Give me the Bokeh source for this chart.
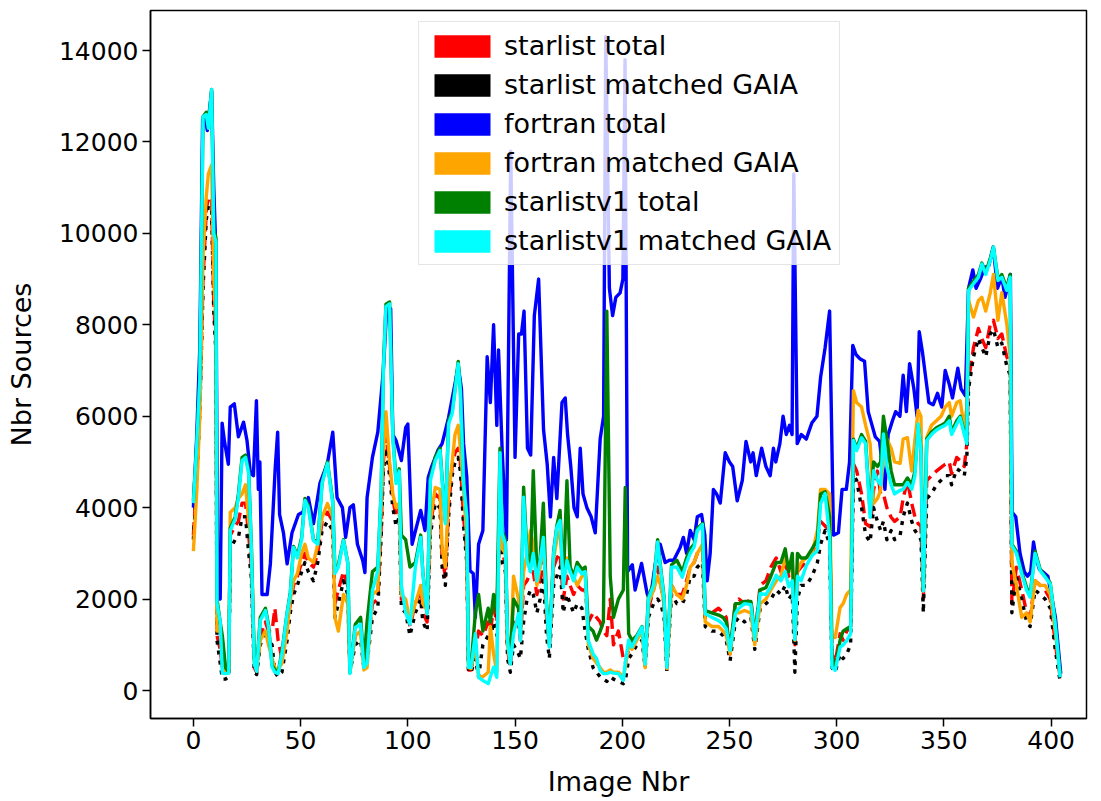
from bokeh.plotting import figure
from bokeh.models import Range1d, FixedTicker, Legend, LegendItem
from bokeh.embed import file_html
from bokeh.resources import INLINE

# ---- data ----
x_lower = [0, 1.5, 3, 4.5, 6, 7, 8.5, 9.5, 10.5, 11, 12.5, 13.5, 15, 16.5, 17.2, 19.5, 21, 22.7, 24.3, 25.8,
           27, 28.4, 29.5, 31.2, 33.6, 35, 36.7, 38, 39.5, 41.3, 43.7, 45.2, 46.7, 48.5, 50.5, 52, 53.6, 56, 58, 60,
           62.5, 65, 66, 67.6, 70, 72, 73, 75.5, 78, 79.5, 81, 83.5, 86, 87.6, 88.6, 89.8, 91.5, 93, 94.5, 96,
           97, 99, 101, 103.5, 106, 107, 109, 110.5, 112.8, 115, 116, 117.5, 119, 120.7, 122, 123.5, 124.5, 126, 127.5, 128.3,
           129.5, 131.5, 133, 135, 137.5, 138.5, 140, 141.5, 143, 144, 145.5, 146.5, 147.8, 149.3, 151.6, 152.5, 154, 155.6, 157.2, 158.5,
           160.2, 161.7, 163.2, 164.7, 166, 168, 169.5, 171, 172.5, 174.2, 175.7, 177.3, 179, 181.2, 182.7, 184.2, 186.4, 188, 189.7, 191.2,
           192.8, 194.4, 195.9, 198.2, 200.5, 201.4, 203, 204.5, 206.8, 209.2, 210.7, 212.2, 214.6, 216.5, 218, 219.5, 220.8, 223, 225.5, 228,
           230, 231.7, 233.5, 235, 237.4, 238.7, 241.8, 244.9, 247, 248.5, 250.3, 252.7, 254.4, 257, 260, 261.8, 264.3, 267, 269.3, 271.8,
           274, 276, 277.6, 279.3, 280.5, 281.7, 283.4, 285.8, 288.5, 291, 292.5, 294.6, 296.7, 297.8, 299.3, 301.6, 303, 304.7, 306.5, 307.8,
           309.3, 311.6, 313.5, 315.6, 317.2, 319, 320.5, 321.8, 323.4, 325.4, 327, 329.6, 331, 333, 335, 336.5, 338, 339.3, 340.4, 342,
           344.2, 346.5, 348.7, 350.6, 352.5, 353.6, 356, 357.6, 359.5, 360.7, 361.5, 363.8, 366.1, 367.7, 369.5, 371.6, 373.1, 375.2, 377, 379.3,
           380.9, 381.7, 383.8, 386.3, 388.6, 390.2, 392.5, 394.9, 397.2, 399.6, 401.9, 404.2]

starlistv1_matched = [4100, 5300, 6800, 12550, 12600, 12300, 13150, 10000, 9800, 1900, 1500, 380, 370, 380, 3500, 3750, 4230, 5030, 5100, 4740,
           3130, 580, 420, 1530, 1750, 1400, 510, 400, 370, 800, 1680, 2110, 3130, 2900, 3300, 4160, 4000, 3280, 3200, 4530,
           4970, 4090, 2560, 2700, 3280, 2780, 370, 1380, 1450, 500, 600, 2190, 2620, 4375, 7000, 8400, 8460, 5530, 4530, 4800,
           2300, 1700, 1450, 2700, 3350, 2560, 1680, 4590, 5030, 5250, 4590, 3650, 5830, 6060, 6560, 7150, 6560, 4530, 3800, 510,
           510, 1240, 290, 220, 150, 300, 510, 290, 5200, 3430, 3200, 1090, 580, 1240, 1680, 1090, 4230, 2840, 2600, 3000,
           2400, 2840, 3350, 1850, 950, 3000, 3570, 3720, 2260, 2840, 2600, 2400, 2700, 2550, 2600, 1090, 800, 700, 440, 370,
           370, 400, 380, 370, 220, 600, 1100, 950, 1170, 1390, 580, 2000, 2300, 3250, 2600, 2000, 510, 2700, 2700, 2480,
           2800, 3000, 3140, 3500, 3630, 1680, 1600, 1530, 1450, 1350, 875, 1680, 1800, 1900, 1880, 1120, 2120, 2100, 2270, 2520,
           2400, 2600, 2270, 2400, 1120, 2500, 2400, 2730, 2950, 3060, 4090, 4310, 3350, 510, 440, 950, 1000, 1090, 1240, 5470,
           5250, 5530, 5400, 3790, 4810, 4600, 4500, 5610, 4900, 4500, 4300, 4380, 4400, 4550, 4400, 4700, 5830, 5250, 2180, 5470,
           5600, 5700, 5760, 5800, 5900, 5600, 5830, 5970, 5610, 5400, 8750, 8900, 9040, 9330, 9100, 9400, 9700, 8970, 9040, 8750,
           9040, 3170, 3000, 2550, 2190, 2040, 3000, 2620, 2480, 2330, 1460, 290]

starlistv1_total = [4150, 5350, 6900, 12550, 12650, 12350, 13150, 10100, 9900, 2000, 1500, 1200, 500, 400, 3550, 3800, 4300, 5100, 5150, 4800,
           3200, 700, 500, 1600, 1800, 1450, 550, 450, 400, 850, 1700, 2150, 3150, 2950, 3350, 4200, 4050, 3300, 3250, 4550,
           5000, 4150, 2650, 2750, 3300, 2800, 400, 1450, 1600, 600, 1500, 2600, 2700, 4400, 7100, 8450, 8500, 5600, 4600, 4850,
           3400, 3300, 2700, 2800, 3400, 2600, 1700, 4650, 5100, 5300, 4650, 3700, 5900, 6100, 6600, 7200, 6600, 4600, 3850, 600,
           550, 1700, 2100, 1300, 1800, 1500, 2100, 1700, 5300, 3500, 3300, 1200, 700, 2000, 1800, 1300, 4450, 3000, 2700, 4810,
           2600, 2900, 4100, 1900, 1000, 3050, 3600, 3940, 2300, 4590, 2700, 2500, 2800, 2650, 2700, 1400, 1300, 1100, 1300, 1500,
           8300, 2500, 1600, 2000, 2200, 4440, 1240, 1100, 1200, 1400, 700, 2050, 2350, 3300, 2650, 2050, 550, 2750, 2850, 2600,
           2900, 3100, 3200, 3550, 3650, 1750, 1700, 1650, 1600, 1500, 900, 1900, 1900, 1950, 1950, 1200, 2200, 2250, 2500, 2800,
           2800, 3100, 2600, 3000, 1300, 3000, 2900, 2900, 3100, 3300, 4300, 4350, 3800, 700, 500, 1100, 1300, 1350, 1400, 5500,
           5300, 5600, 5450, 3900, 5000, 4900, 5000, 6000, 5500, 4800, 4500, 4500, 4500, 4650, 4500, 4800, 5800, 5300, 2200, 5500,
           5650, 5750, 5800, 5850, 6000, 5650, 5900, 6000, 5650, 5500, 8800, 8950, 9100, 9350, 9150, 9450, 9700, 9000, 9100, 8800,
           9100, 3200, 3050, 2600, 2250, 2100, 3050, 2650, 2500, 2350, 1500, 350]

fortran_matched = [3050, 4300, 6000, 9500, 10800, 11300, 11500, 9000, 8000, 1300, 1300, 1100, 400, 400, 3900, 4000, 4200, 4300, 4500, 3700,
           3300, 600, 450, 1100, 1300, 1000, 700, 500, 450, 600, 1300, 2000, 2400, 2560, 3000, 3200, 2900, 2800, 3200, 3790,
           4090, 3800, 1600, 1300, 2100, 1900, 400, 1200, 1300, 450, 500, 2100, 2200, 4010, 5250, 6100, 5000, 4300, 4000, 4100,
           2100, 2000, 1500, 1900, 2300, 1900, 1750, 3700, 4440, 4400, 3100, 2700, 4300, 5000, 5600, 5800, 5300, 4400, 3300, 500,
           480, 1000, 300, 300, 400, 1400, 800, 400, 4700, 3100, 3000, 1000, 600, 2500, 2000, 1200, 2600, 3000, 3500, 3200,
           2300, 2700, 3300, 1800, 1000, 2900, 3300, 3500, 2400, 2900, 2700, 2500, 2300, 2500, 2600, 1000, 700, 600, 500, 400,
           400, 450, 400, 400, 300, 500, 1000, 900, 1100, 1300, 500, 1900, 2200, 2500, 2300, 1900, 480, 2300, 2100, 2000,
           2300, 2700, 2800, 3000, 3200, 1500, 1400, 1400, 1300, 1200, 800, 1700, 1700, 1750, 1700, 1000, 1900, 2000, 2200, 2400,
           2500, 2900, 2700, 2800, 1100, 2600, 2800, 2900, 3000, 3500, 4400, 4400, 4300, 1200, 1160, 1820, 1900, 2110, 2200, 6560,
           6300, 6200, 5800, 5400, 4090, 4200, 4380, 5100, 5500, 5300, 5000, 4970, 5500, 5530, 4800, 5500, 6130, 6000, 2180, 5530,
           5800, 5900, 6000, 6200, 6300, 6000, 6300, 6340, 5760, 6200, 8530, 8170, 8530, 8600, 8300, 8700, 9100, 8100, 8700, 8030,
           7300, 2800, 2300, 1600, 1700, 1500, 2400, 2300, 2300, 2100, 1300, 350]

starlist_total = [3400, 4600, 6200, 9000, 10500, 10800, 10700, 8500, 7600, 1200, 900, 500, 400, 400, 3400, 3600, 3700, 4100, 4100, 3400,
           2700, 500, 400, 1200, 1500, 1300, 1300, 1800, 1100, 700, 1400, 1900, 2300, 2500, 2800, 3000, 2800, 2700, 3000, 3700,
           3900, 3700, 1900, 2200, 2600, 2300, 500, 1200, 1300, 700, 800, 1900, 2000, 3600, 5000, 5600, 4900, 4200, 3800, 4000,
           2000, 1900, 1400, 1900, 2200, 1700, 1500, 3600, 4300, 4200, 2900, 2500, 4000, 4900, 5200, 5300, 5000, 3800, 3000, 450,
           450, 900, 1300, 1200, 1500, 1300, 1800, 1500, 4500, 3000, 2800, 900, 500, 1500, 1400, 1100, 2300, 2400, 2600, 2600,
           2100, 2400, 2900, 1600, 1000, 2700, 2900, 3000, 2000, 2500, 2300, 2100, 2300, 2200, 2200, 1500, 1700, 1600, 1500, 1300,
           1200, 2000, 1000, 1300, 700, 600, 900, 1000, 1200, 1300, 700, 1800, 2200, 2700, 2300, 1900, 600, 2300, 2100, 2100,
           2400, 2700, 2800, 3000, 3100, 1600, 1700, 1800, 1700, 1600, 800, 1900, 2000, 1900, 2000, 1100, 2300, 2400, 2700, 2900,
           2600, 2800, 2500, 2700, 1000, 2600, 2700, 2800, 3000, 3300, 3700, 3600, 3500, 800, 620, 1240, 1100, 1300, 1400, 4960,
           4810, 4300, 3650, 3580, 4380, 4800, 4300, 4300, 4000, 3790, 3700, 3800, 4200, 4590, 4090, 3800, 3650, 3600, 2000, 4590,
           4700, 4800, 4880, 4950, 5000, 4740, 5100, 5030, 4900, 5400, 6780, 7500, 7920, 7700, 7500, 8000, 8100, 7700, 7800, 7300,
           7150, 1900, 2700, 2200, 1700, 1600, 2400, 2300, 2200, 2000, 1050, 300]

starlist_matched = [3300, 4500, 6100, 8800, 10300, 10600, 10500, 8300, 7400, 1100, 600, 250, 250, 300, 3100, 3300, 3350, 3800, 3800, 3000,
           2500, 400, 350, 1000, 1300, 1100, 1000, 400, 300, 400, 1100, 1700, 2100, 2300, 2600, 2800, 2600, 2400, 2800, 3500,
           3700, 3500, 1600, 1900, 2400, 2100, 400, 1000, 1100, 500, 600, 1600, 1800, 3400, 4800, 5300, 4700, 4000, 3600, 3800,
           1800, 1700, 1200, 1700, 2000, 1500, 1300, 3400, 4100, 4000, 2700, 2300, 3800, 4700, 5000, 5100, 4800, 3600, 2800, 400,
           400, 700, 300, 1000, 1200, 1100, 1500, 1200, 4300, 2800, 2600, 700, 400, 1000, 800, 700, 1500, 2000, 2200, 2100,
           1700, 2000, 2500, 1200, 700, 2300, 2500, 2700, 1700, 2100, 1900, 1700, 1900, 1800, 1300, 900, 500, 400, 300, 250,
           200, 300, 250, 200, 150, 200, 700, 800, 1000, 1100, 500, 1600, 1900, 2000, 1900, 1600, 400, 2100, 1900, 1900,
           2100, 2500, 2500, 2700, 2800, 1400, 1300, 1300, 1200, 1100, 650, 1500, 1600, 1500, 1600, 900, 1800, 1900, 2000, 2200,
           2100, 2300, 2000, 2100, 400, 2000, 2300, 2300, 2500, 2800, 3200, 3500, 3200, 500, 400, 800, 700, 800, 1000, 4700,
           4600, 4000, 3400, 3250, 4000, 3700, 3500, 3700, 3300, 3500, 3300, 3400, 3800, 4100, 3700, 3500, 3400, 3300, 1700, 4200,
           4300, 4500, 4600, 4700, 4700, 4500, 4850, 4800, 4700, 5100, 6600, 7300, 7700, 7500, 7300, 7800, 7900, 7500, 7600, 7100,
           6900, 1700, 2500, 2000, 1500, 1400, 2200, 2100, 2000, 1800, 900, 200]

x_fortran = [0, 1.5, 3, 4.3, 5.5, 6.5, 7.5, 8.5, 9.5, 10.5, 11.3, 12.5, 13.4, 14.5, 16.3, 17.2, 19.1, 21, 23.4, 25,
             26.6, 28, 29.4, 30.3, 31, 32, 34.4, 35.9, 38.2, 39.3, 40.2, 42, 43.7, 46, 49, 51, 53.6, 56, 59, 62.5,
             65, 67, 69.5, 71, 73, 74.6, 76.5, 79, 80, 81, 83.5, 86, 88.6, 90.2, 92, 93, 94.5, 97, 99, 100,
             102, 103.5, 106, 108, 109.5, 111, 114, 116, 119, 122, 123.5, 125, 126, 127.5, 129, 130.5, 131.5, 133, 135, 137,
             138.5, 140, 141.5, 142.3, 144, 146, 148, 150, 151.7, 153, 154.2, 155.8, 157.3, 159, 161, 163.3, 165, 166.5, 168, 169.5,
             171.9, 173.4, 174.5, 176, 177.5, 179, 180.4, 181.7, 183.5, 185.5, 187.4, 189.7, 191.3, 192.3, 194, 195.5, 197, 199, 200.3, 201.3,
             202.5, 204.7, 206, 209, 211.6, 213, 215.4, 217.7, 220, 222, 224, 227, 228.5, 230, 231.7, 233.5, 235, 237, 238.5, 239.6,
             241, 242.5, 244, 245.7, 248, 250, 251.5, 253.6, 256, 257.7, 259.9, 261, 262.5, 265, 267, 269, 270.5, 271.6, 273.5, 275,
             276.5, 278, 279.2, 280, 281.6, 283.5, 285.8, 288.4, 290.8, 292.5, 294.6, 296.7, 298.5, 300.8, 302.5, 304.5, 306, 307.5, 309, 311,
             313, 314.7, 316.5, 318, 320, 322.5, 324, 326, 327.5, 329.5, 331, 332.5, 334, 336, 337.5, 338.5, 340, 341.5, 343, 345,
             347, 349, 350.6, 352.5, 354, 356.5, 358, 360, 361.5, 363.5, 365, 367, 369, 371, 373, 375, 377, 378.5, 381, 381.8,
             383.5, 385.5, 387.5, 389, 390.5, 391.8, 393, 394.5, 396, 398.5, 400, 402, 404.5]

fortran_total = [4000, 5500, 7500, 12500, 12550, 12250, 12700, 13100, 11000, 9600, 2100, 2000, 5850, 5450, 4950, 6200, 6270, 5550, 5870, 5470,
             4750, 4700, 6340, 4400, 5000, 2100, 2100, 2770, 4900, 5650, 3850, 3450, 2770, 3450, 3850, 3900, 4220, 3650, 4530, 4970,
             5650, 4220, 4000, 3350, 4000, 4060, 3200, 2840, 2580, 4220, 5100, 5650, 7000, 8400, 8350, 5600, 5470, 5030, 5750, 5830,
             3200, 3480, 3940, 3500, 4660, 4880, 5250, 5400, 5970, 6710, 7100, 6600, 5400, 4670, 2620, 2560, 1600, 3200, 3500, 7300,
             6300, 8000, 5800, 7450, 5250, 3300, 11800, 5100, 7800, 7800, 8300, 5300, 5150, 8200, 9000, 5700, 4950, 3800, 5100, 4200,
             6300, 6400, 5600, 4900, 4000, 3800, 5300, 4300, 4000, 3800, 3450, 5500, 6000, 14300, 8800, 8200, 8600, 8700, 9000, 13800,
             2600, 2750, 2200, 2780, 2120, 1970, 2770, 3200, 2800, 2850, 2850, 3130, 3350, 3000, 3500, 3300, 3800, 3850, 3400, 2400,
             3000, 4400, 4300, 4100, 5200, 5000, 4900, 4150, 4600, 5450, 5000, 5200, 4700, 5300, 4900, 4700, 5300, 5000, 5400, 6000,
             5600, 5800, 5600, 11300, 5400, 5600, 5500, 5850, 6000, 6850, 7500, 8300, 3400, 3450, 4400, 4400, 5000, 7550, 7350, 7250,
             7200, 6100, 5800, 5550, 5450, 4400, 5600, 5900, 6100, 6000, 6900, 6100, 7150, 6600, 6000, 7850, 7400, 6850, 6300, 6250,
             6500, 6200, 7000, 6700, 6400, 7050, 6600, 6450, 8800, 9200, 8800, 9000, 9250, 9300, 9700, 8800, 9050, 8600, 9100, 3900,
             3800, 3000, 2600, 2500, 2600, 3250, 2900, 2650, 2600, 2500, 2100, 1600, 370]

series_labels = ["starlist total", "starlist matched GAIA", "fortran total",
                 "fortran matched GAIA", "starlistv1 total", "starlistv1 matched GAIA"]
series_colors = ["red", "black", "blue", "orange", "green", "cyan"]
x_ticks = [0, 50, 100, 150, 200, 250, 300, 350, 400]
y_ticks = [0, 2000, 4000, 6000, 8000, 10000, 12000, 14000]

FONT = "DejaVu Sans"
TICK_FS = "25px"
LABEL_FS = "27px"
LW = 3.4

p = figure(width=1093, height=800, output_backend="svg", toolbar_location=None,
           x_range=Range1d(-20, 416.5), y_range=Range1d(-612, 14875),
           min_border_left=150, min_border_right=7, min_border_top=10, min_border_bottom=82)

p.xgrid.visible = False
p.ygrid.visible = False
p.outline_line_color = "black"
p.outline_line_width = 1.5
p.background_fill_color = "white"
p.border_fill_color = "white"

for ax in (p.xaxis[0], p.yaxis[0]):
    ax.major_label_text_font = FONT
    ax.major_label_text_font_size = TICK_FS
    ax.major_label_text_color = "black"
    ax.axis_label_text_font = FONT
    ax.axis_label_text_font_size = LABEL_FS
    ax.axis_label_text_font_style = "normal"
    ax.axis_label_text_color = "black"
    ax.axis_line_width = 1.5
    ax.major_tick_line_width = 1.5
    ax.major_tick_out = 8
    ax.major_tick_in = 0
    ax.minor_tick_out = 0
    ax.minor_tick_in = 0
    ax.major_label_standoff = 4

p.xaxis[0].ticker = FixedTicker(ticks=x_ticks)
p.yaxis[0].ticker = FixedTicker(ticks=y_ticks)
p.xaxis[0].axis_label = "Image Nbr"
p.yaxis[0].axis_label = "Nbr Sources"
p.xaxis[0].axis_label_standoff = 14
p.yaxis[0].axis_label_standoff = 19

common = dict(line_width=LW, line_join="round")
p.line(x_lower, starlist_total, line_color=series_colors[0], line_dash="13 6", **common)
p.line(x_lower, starlist_matched, line_color=series_colors[1], line_dash="4 6", **common)
p.line(x_fortran, fortran_total, line_color=series_colors[2], **common)
p.line(x_lower, fortran_matched, line_color=series_colors[3], **common)
p.line(x_lower, starlistv1_total, line_color=series_colors[4], **common)
p.line(x_lower, starlistv1_matched, line_color=series_colors[5], **common)

# zero-size patches (at the first data point) used only as legend swatches
items = []
for lab, col in zip(series_labels, series_colors):
    r = p.quad(left=[x_lower[0]], right=[x_lower[0]],
               top=[starlistv1_matched[0]], bottom=[starlistv1_matched[0]],
               fill_color=col, line_color=None)
    items.append(LegendItem(label=lab, renderers=[r]))

legend = Legend(items=items, location=(268, 453), orientation="vertical",
                label_text_font=FONT, label_text_font_size=LABEL_FS, label_text_color="black",
                glyph_width=70, glyph_height=28, label_height=22, label_standoff=7,
                spacing=8, padding=8, margin=0,
                border_line_color="#cccccc", border_line_width=1.5,
                background_fill_color="white", background_fill_alpha=0.8)
p.add_layout(legend, "center")

open("out.html", "w").write(file_html(p, INLINE))
